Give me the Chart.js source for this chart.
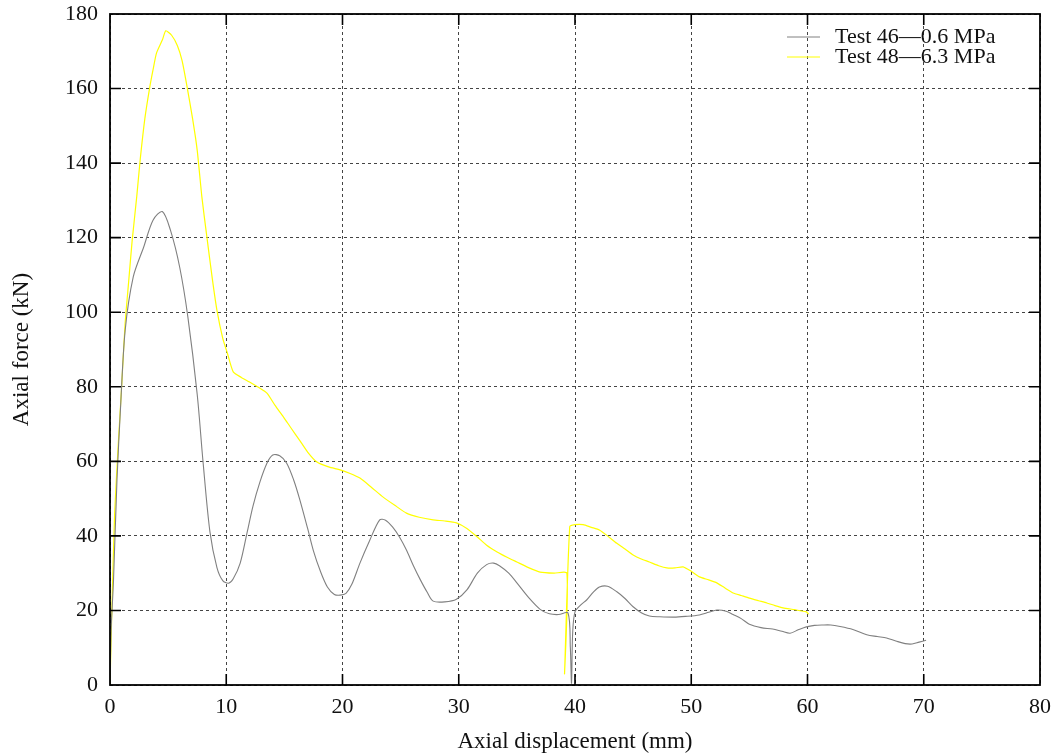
<!DOCTYPE html>
<html>
<head>
<meta charset="utf-8">
<script src="https://cdn.jsdelivr.net/npm/chart.js@4"></script>
<style>
html,body{margin:0;padding:0;background:#fff;}
#wrap{width:1057px;height:756px;}
</style>
</head>
<body>
<div id="wrap"><canvas id="c" width="1057" height="756"></canvas></div>
<script>
const xTitle = "Axial displacement (mm)";
const yTitle = "Axial force (kN)";
const seriesNames = ["Test 46\u20140.6 MPa", "Test 48\u20146.3 MPa"];

const test46X = [0,0.1,0.3,0.6,0.9,1.3,2.0,2.9,3.7,4.5,5.2,6.0,6.7,7.5,8.0,8.6,9.2,9.7,10.2,10.6,11.2,11.8,12.3,12.9,13.5,14.0,14.6,15.2,15.8,16.3,17.0,17.5,18.1,18.7,19.3,19.8,20.3,20.8,21.5,22.3,23.2,23.7,24.3,24.9,25.5,26.1,26.7,27.3,27.8,28.8,29.8,30.7,31.6,32.4,33.0,33.5,34.3,35.0,36.0,37.0,37.8,38.6,39.4,39.6,39.7,39.8,40.0,40.5,41.0,41.6,42.1,42.8,43.6,44.3,45.0,45.7,46.4,47.3,48.5,49.5,50.7,51.5,52.2,53.0,53.6,54.3,55.0,56.0,57.0,57.8,58.5,59.2,59.9,60.6,61.3,62.0,62.8,63.9,65.1,66.0,66.8,67.6,68.4,69.0,69.6,70.2];
const test46Y = [0,15,28,55,74,95,109.5,117.5,124.7,127,122,112,98.7,78,60,41,31.5,28,27.3,28.5,32.7,41,48,54.5,59.5,61.7,61.5,59.5,55,50,42,36,30.5,26.3,24.3,24.1,24.6,27,32.7,38.5,44.3,44.2,42.4,39.7,36.2,32,28.2,24.8,22.5,22.3,23,25.5,30,32.3,32.7,32,30,27.4,23.5,20.3,19.1,18.9,19.3,10,0.5,14,19.6,21.5,22.8,25,26.3,26.5,25,23.2,21,19.4,18.5,18.3,18.2,18.4,18.8,19.5,20.1,19.8,18.9,17.8,16.3,15.4,15.0,14.4,13.9,14.8,15.6,16.0,16.1,16.1,15.7,14.9,13.5,13.0,12.6,11.8,11.1,11.0,11.5,12.0];

const test48X = [0,0.15,0.4,0.7,1.0,1.3,1.6,1.9,2.3,2.6,3.0,3.4,3.7,4.0,4.5,4.8,5.3,5.8,6.2,6.6,7.1,7.5,7.9,8.3,8.8,9.2,9.7,10.1,10.6,11.3,12.0,12.8,13.5,14.2,14.9,15.6,16.3,17.0,17.8,18.8,19.8,20.6,21.5,22.5,23.5,24.5,25.5,26.6,27.8,28.8,29.8,30.7,31.6,32.4,33.3,34.2,35.0,36.0,37.0,38.2,39.3,39.1,39.55,40.0,40.7,41.4,42.1,42.8,43.6,44.3,45.0,45.7,46.4,47.2,47.9,48.6,49.3,50.0,50.7,51.5,52.2,52.9,53.6,54.3,55.0,55.8,56.5,57.2,57.9,58.9,59.9,60.1];
const test48Y = [0,19,46,64,80,97,108,119,131,141,152,160,165,169.5,173,175.5,174.3,171.5,167.5,161,152,143.5,131,121,109,100.5,93,89,84,82.5,81.3,79.8,78.3,75,72,68.8,65.7,62.5,59.8,58.5,57.7,56.8,55.5,53,50.4,48.2,46.1,45,44.3,44,43.5,42,39.7,37.5,35.7,34.2,33,31.5,30.3,30,30,3,42.5,43,43,42.3,41.6,40,38,36.5,34.9,33.8,33,32,31.4,31.4,31.7,30.5,29,28.2,27.4,26,24.7,24,23.3,22.6,22,21.3,20.7,20.2,19.6,19];

const xTicks = [0,10,20,30,40,50,60,70,80];
const yTicks = [0,20,40,60,80,100,120,140,160,180];

const FONT = "'Liberation Serif','DejaVu Serif',serif";

function pts(xs, ys){ return xs.map((x,i)=>({x:x, y:ys[i]})); }

const framePlugin = {
  id: 'frame',
  afterDatasetsDraw(chart){
    const ctx = chart.ctx, a = chart.chartArea;
    const xs = chart.scales.x, ys = chart.scales.y;
    ctx.save();
    ctx.strokeStyle = '#000';
    ctx.lineWidth = 1.6;
    ctx.setLineDash([]);
    ctx.beginPath();
    const tl = 11;
    xTicks.forEach(v=>{
      const p = xs.getPixelForValue(v);
      if (v===xs.min || v===xs.max) return;
      ctx.moveTo(p, a.bottom); ctx.lineTo(p, a.bottom - tl);
      ctx.moveTo(p, a.top); ctx.lineTo(p, a.top + tl);
    });
    yTicks.forEach(v=>{
      const p = ys.getPixelForValue(v);
      if (v===ys.min || v===ys.max) return;
      ctx.moveTo(a.left, p); ctx.lineTo(a.left + tl, p);
      ctx.moveTo(a.right, p); ctx.lineTo(a.right - tl, p);
    });
    ctx.stroke();
    ctx.lineWidth = 1.8;
    ctx.strokeRect(a.left, a.top, a.right - a.left, a.bottom - a.top);
    // legend
    ctx.font = "22px " + FONT;
    ctx.textBaseline = 'middle';
    ctx.textAlign = 'left';
    chart.data.datasets.forEach((ds, i)=>{
      const yy = 37 + i*20;
      ctx.strokeStyle = ds.borderColor;
      ctx.lineWidth = 1;
      ctx.beginPath();
      ctx.moveTo(787, yy); ctx.lineTo(820, yy);
      ctx.stroke();
      ctx.fillStyle = '#111';
      ctx.fillText(ds.label, 835, yy);
    });
    ctx.restore();
  }
};

new Chart(document.getElementById('c'), {
  type: 'line',
  data: {
    datasets: [
      { label: seriesNames[0], data: pts(test46X, test46Y), borderColor: '#808080', borderWidth: 1.1, pointRadius: 0, tension: 0.3, fill: false },
      { label: seriesNames[1], data: pts(test48X, test48Y), borderColor: '#ffff00', borderWidth: 1.2, pointRadius: 0, tension: 0.2, fill: false }
    ]
  },
  options: {
    responsive: false,
    animation: false,
    devicePixelRatio: 1,
    layout: { padding: { top: 14, right: 17, left: 8, bottom: 0 } },
    plugins: { legend: { display: false }, tooltip: { enabled: false } },
    scales: {
      x: {
        type: 'linear', min: 0, max: 80,
        afterBuildTicks(s){ s.ticks = xTicks.map(v=>({value:v})); },
        afterFit(s){ s.height = 71; s.paddingLeft = 0; s.paddingRight = 0; },
        grid: { color: '#444', lineWidth: 1, drawTicks: false },
        border: { display: false, dash: [3,3] },
        ticks: { font: { family: FONT, size: 22 }, color: '#111', padding: 9, maxRotation: 0 },
        title: { display: true, text: xTitle, font: { family: FONT, size: 23 }, color: '#111', padding: { top: 1, bottom: 0 } }
      },
      y: {
        type: 'linear', min: 0, max: 180,
        afterBuildTicks(s){ s.ticks = yTicks.map(v=>({value:v})); },
        afterFit(s){ s.width = 102; s.paddingTop = 0; s.paddingBottom = 0; },
        grid: { color: '#444', lineWidth: 1, drawTicks: false },
        border: { display: false, dash: [3,3] },
        ticks: { font: { family: FONT, size: 22 }, color: '#111', padding: 12 },
        title: { display: true, text: yTitle, font: { family: FONT, size: 23 }, color: '#111', padding: { top: 0, bottom: 4 } }
      }
    }
  },
  plugins: [framePlugin]
});
</script>
</body>
</html>
